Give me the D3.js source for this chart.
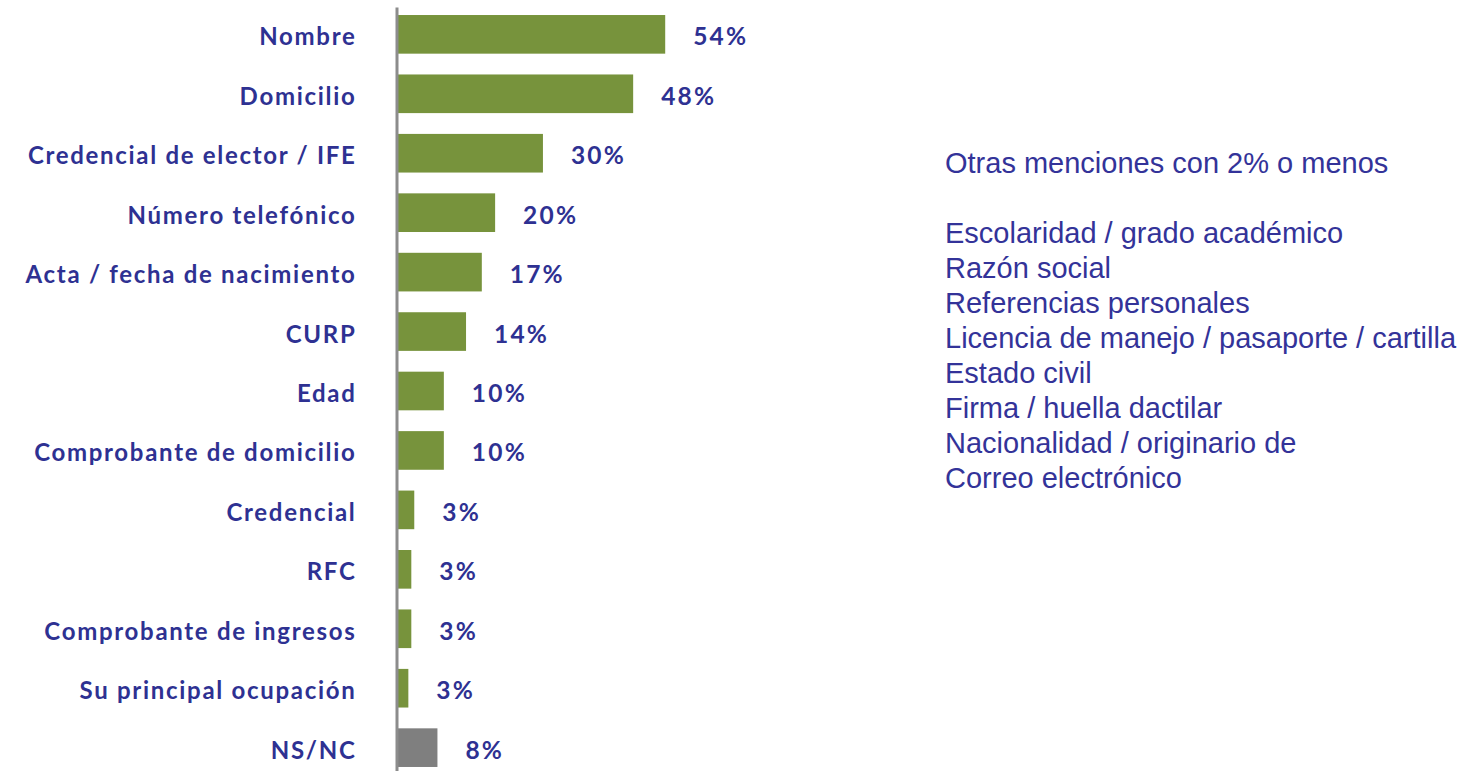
<!DOCTYPE html>
<html>
<head>
<meta charset="utf-8">
<script src="https://cdn.jsdelivr.net/npm/d3@7/dist/d3.min.js"></script>
<style>
  html, body { margin: 0; padding: 0; background: #ffffff; }
  svg { display: block; }
</style>
</head>
<body>
<svg id="chart" width="1464" height="771"></svg>
<script>
// ---- data ----
const categories = [
  "Nombre",
  "Domicilio",
  "Credencial de elector / IFE",
  "Número telefónico",
  "Acta / fecha de nacimiento",
  "CURP",
  "Edad",
  "Comprobante de domicilio",
  "Credencial",
  "RFC",
  "Comprobante de ingresos",
  "Su principal ocupación",
  "NS/NC"
];
const values = [54.2, 47.7, 29.4, 19.7, 17.0, 13.8, 9.3, 9.3, 3.3, 2.7, 2.7, 2.1, 8.0];
const valueLabels = ["54%", "48%", "30%", "20%", "17%", "14%", "10%", "10%", "3%", "3%", "3%", "3%", "8%"];
const otherTitle = "Otras menciones con 2% o menos";
const otherMentions = [
  "Escolaridad / grado académico",
  "Razón social",
  "Referencias personales",
  "Licencia de manejo / pasaporte / cartilla",
  "Estado civil",
  "Firma / huella dactilar",
  "Nacionalidad / originario de",
  "Correo electrónico"
];

// ---- drawing ----
const svg = d3.select("#chart");
const blue = "#2E3192";
const green = "#77933C";
const grey = "#7F7F7F";

const x = d3.scaleLinear().domain([0, 100]).range([398, 398 + 493]);
const y = d3.scaleBand().domain(categories).range([7, 775])
  .paddingInner(0.35).paddingOuter(0.135);

// bars
svg.append("g").selectAll("rect")
  .data(categories)
  .join("rect")
  .attr("x", x(0))
  .attr("y", d => y(d))
  .attr("width", (d, i) => x(values[i]) - x(0))
  .attr("height", y.bandwidth())
  .attr("fill", (d, i) => d === "NS/NC" ? grey : green);

// axis (category labels + vertical line)
const axis = svg.append("g")
  .attr("transform", `translate(${x(0) - 1.5},0)`)
  .call(d3.axisLeft(y).tickSize(0).tickSizeOuter(0).tickPadding(40));
axis.select(".domain")
  .attr("stroke", "#8C8C8C")
  .attr("stroke-width", 3);
axis.selectAll(".tick text")
  .attr("fill", blue)
  .attr("font-family", "Lato, 'Open Sans', sans-serif")
  .attr("font-weight", "bold")
  .attr("font-size", 24)
  .attr("letter-spacing", 1.7)
  .attr("dy", null)
  .attr("y", 11);

// value labels
svg.append("g").selectAll("text")
  .data(categories)
  .join("text")
  .attr("x", (d, i) => x(values[i]) + 28)
  .attr("y", d => y(d) + y.bandwidth() / 2 + 11)
  .attr("fill", blue)
  .attr("font-family", "Lato, 'Open Sans', sans-serif")
  .attr("font-weight", "bold")
  .attr("font-size", 24.5)
  .attr("letter-spacing", 2.2)
  .text((d, i) => valueLabels[i]);

// other mentions block
const lineH = 35;
const block = svg.append("g")
  .attr("font-family", "'Liberation Sans', Arial, sans-serif")
  .attr("font-size", 29)
  .attr("fill", "#333399");
block.append("text")
  .attr("x", 945)
  .attr("y", 173)
  .text(otherTitle);
block.selectAll("text.item")
  .data(otherMentions)
  .join("text")
  .attr("class", "item")
  .attr("x", 945)
  .attr("y", (d, i) => 173 + lineH * (i + 2))
  .text(d => d);
</script>
</body>
</html>
